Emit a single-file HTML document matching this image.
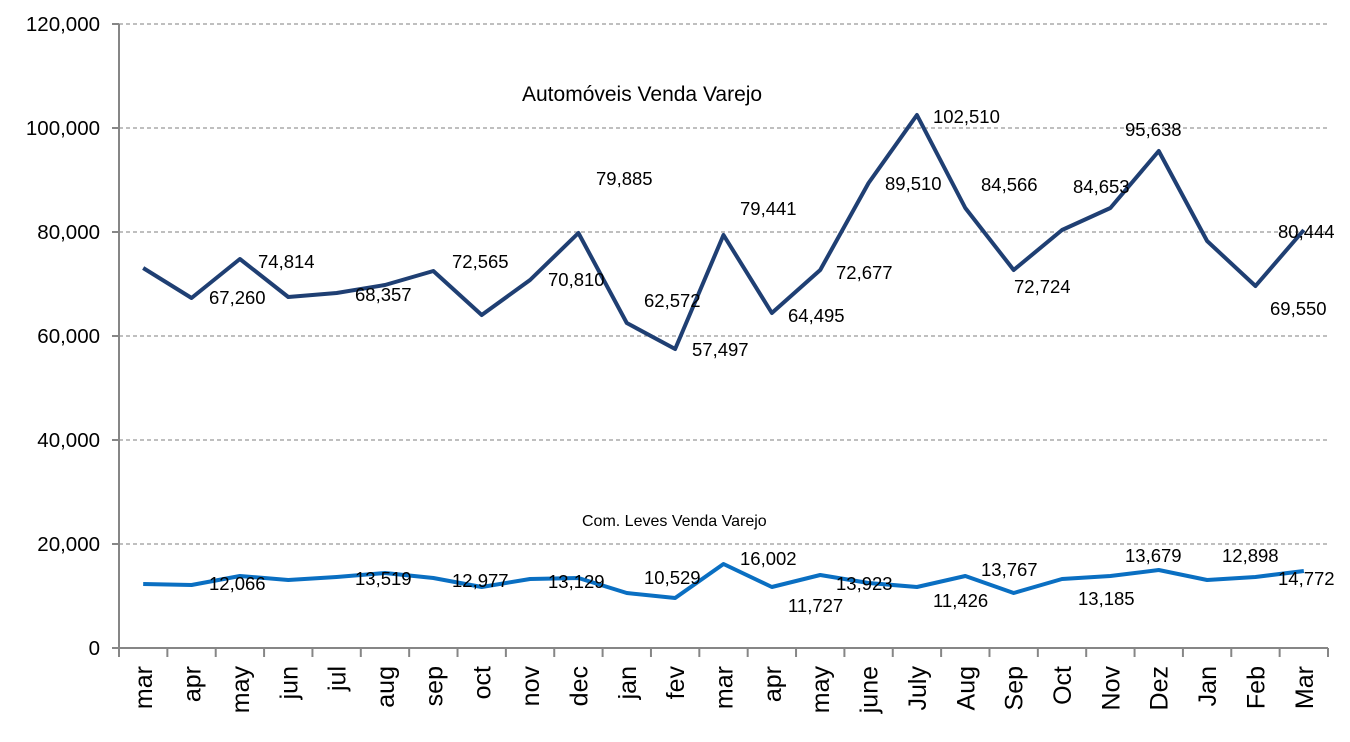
<!DOCTYPE html>
<html><head><meta charset="utf-8"><style>
html,body{margin:0;padding:0;background:#fff;}
svg{display:block;font-family:"Liberation Sans",sans-serif;}
</style></head><body>
<svg width="1350" height="742" viewBox="0 0 1350 742">
<g stroke="#7f7f7f" stroke-width="1" stroke-dasharray="4,3">
<line x1="119" y1="24" x2="1328" y2="24"/>
<line x1="119" y1="128" x2="1328" y2="128"/>
<line x1="119" y1="232" x2="1328" y2="232"/>
<line x1="119" y1="336" x2="1328" y2="336"/>
<line x1="119" y1="440" x2="1328" y2="440"/>
<line x1="119" y1="544" x2="1328" y2="544"/>
</g>
<g stroke="#868686" stroke-width="2">
<line x1="119" y1="24" x2="119" y2="657"/>
<line x1="112" y1="648" x2="1328" y2="648"/>
<line x1="112" y1="24" x2="119" y2="24"/><line x1="112" y1="128" x2="119" y2="128"/><line x1="112" y1="232" x2="119" y2="232"/><line x1="112" y1="336" x2="119" y2="336"/><line x1="112" y1="440" x2="119" y2="440"/><line x1="112" y1="544" x2="119" y2="544"/>
</g>
<g id="ticks" stroke="#868686" stroke-width="2"></g>
<g font-size="20.5" text-anchor="end" fill="#000">
<text x="100" y="31">120,000</text><text x="100" y="135">100,000</text><text x="100" y="239">80,000</text><text x="100" y="343">60,000</text><text x="100" y="447">40,000</text><text x="100" y="551">20,000</text><text x="100" y="655">0</text>
</g>
<g id="xl" font-size="25" fill="#000"></g>
<polyline id="p1" fill="none" stroke="#1f3f73" stroke-width="4" stroke-linejoin="round"/>
<polyline id="p2" fill="none" stroke="#0a6fc2" stroke-width="4" stroke-linejoin="round"/>
<text x="522" y="101" font-size="21">Automóveis Venda Varejo</text>
<text x="582" y="526" font-size="16">Com. Leves Venda Varejo</text>
<g font-size="18.5" fill="#000">
<text x="258" y="268">74,814</text><text x="209" y="304">67,260</text><text x="355" y="301">68,357</text>
<text x="452" y="268">72,565</text><text x="548" y="286">70,810</text><text x="596" y="185">79,885</text>
<text x="644" y="307">62,572</text><text x="692" y="356">57,497</text><text x="740" y="215">79,441</text>
<text x="788" y="322">64,495</text><text x="836" y="279">72,677</text><text x="885" y="190">89,510</text>
<text x="933" y="123">102,510</text><text x="981" y="191">84,566</text><text x="1014" y="293">72,724</text>
<text x="1073" y="193">84,653</text><text x="1125" y="136">95,638</text><text x="1278" y="238">80,444</text>
<text x="1270" y="315">69,550</text>
<text x="209" y="590">12,066</text><text x="355" y="585">13,519</text><text x="452" y="587">12,977</text>
<text x="548" y="588">13,129</text><text x="644" y="584">10,529</text><text x="740" y="565">16,002</text>
<text x="788" y="612">11,727</text><text x="836" y="590">13,923</text><text x="933" y="607">11,426</text>
<text x="981" y="576">13,767</text><text x="1078" y="605">13,185</text><text x="1125" y="562">13,679</text>
<text x="1222" y="562">12,898</text><text x="1278" y="585">14,772</text>
</g>
<script>
var x0=119,w=48.36;
var labs=["mar","apr","may","jun","jul","aug","sep","oct","nov","dec","jan","fev","mar","apr","may","june","July","Aug","Sep","Oct","Nov","Dez","Jan","Feb","Mar"];
var a=[268,298,259,297,293,285,271,315,280,233,323,349,235,313,270,183,115,208,270,230,208,151,241,286,230];
var b=[584,585,576,580,577,573,578,587,579,578,593,598,564,587,575,583,587,576,593,579,576,570,580,577,571];
var t=document.getElementById("ticks"),xl=document.getElementById("xl"),ns="http://www.w3.org/2000/svg";
var pa=[],pb=[];
for(var i=0;i<=25;i++){var l=document.createElementNS(ns,"line");var xx=x0+w*i;l.setAttribute("x1",xx);l.setAttribute("x2",xx);l.setAttribute("y1",648);l.setAttribute("y2",657);t.appendChild(l);}
for(i=0;i<25;i++){var cx=x0+w*(i+0.5);pa.push(cx+","+a[i]);pb.push(cx+","+b[i]);
var tx=document.createElementNS(ns,"text");tx.setAttribute("transform","translate("+(cx+9)+",666) rotate(-90)");tx.setAttribute("text-anchor","end");tx.textContent=labs[i];xl.appendChild(tx);}
document.getElementById("p1").setAttribute("points",pa.join(" "));
document.getElementById("p2").setAttribute("points",pb.join(" "));
</script>
</svg>
</body></html>
